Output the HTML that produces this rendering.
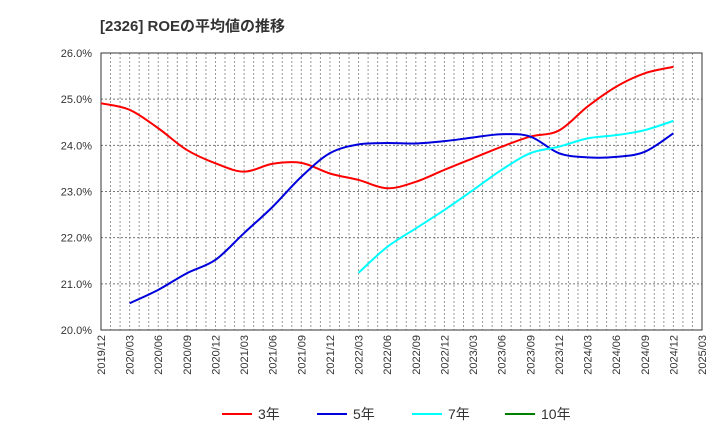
<!DOCTYPE html>
<html><head><meta charset="utf-8"><style>
body{margin:0;background:#fff;font-family:"Liberation Sans","Noto Sans CJK JP",sans-serif;}
</style></head><body>
<svg width="720" height="440" viewBox="0 0 720 440" xmlns="http://www.w3.org/2000/svg" font-family="Liberation Sans, Noto Sans CJK JP, sans-serif">
<text x="100" y="31" font-size="15" font-weight="bold" fill="#333">[2326]  ROEの平均値の推移</text>
<g id="grid"></g>
<g id="axes"></g>
<g id="series"></g>
<g id="legend"></g>
</svg>
<script>
const xLabels=["2019/12","2020/03","2020/06","2020/09","2020/12","2021/03","2021/06","2021/09","2021/12","2022/03","2022/06","2022/09","2022/12","2023/03","2023/06","2023/09","2023/12","2024/03","2024/06","2024/09","2024/12","2025/03"];
const yTicks=[20,21,22,23,24,25,26];
const quarterIdx=[0,1,2,3,4,5,6,7,8,9,10,11,12,13,14,15,16,17,18,19,20];
const roe3=[24.91,24.77,24.37,23.9,23.61,23.43,23.6,23.62,23.39,23.25,23.07,23.21,23.47,23.72,23.97,24.19,24.32,24.84,25.27,25.56,25.70];
const roe5=[null,20.58,20.87,21.23,21.52,22.1,22.67,23.32,23.83,24.02,24.05,24.04,24.09,24.17,24.24,24.19,23.83,23.74,23.75,23.86,24.26];
const roe7=[null,null,null,null,null,null,null,null,null,21.24,21.8,22.2,22.6,23.03,23.47,23.83,23.97,24.15,24.22,24.33,24.53];
const roe10=[];
const L=101,R=702,T=53,B=330;
const xq=i=>L+i*(R-L)/21;
const ym=m=>L+m*(R-L)/63;
const y=v=>T+(26-v)*(B-T)/6;
const NS="http://www.w3.org/2000/svg";
function mk(tag,attrs,parent){const e=document.createElementNS(NS,tag);for(const k in attrs)e.setAttribute(k,attrs[k]);parent.appendChild(e);return e;}
const grid=document.getElementById('grid'),axes=document.getElementById('axes'),ser=document.getElementById('series'),leg=document.getElementById('legend');
const bg=mk('rect',{x:L,y:T,width:R-L,height:B-T,fill:'#fff'},grid);


for(let m=1;m<63;m++){const g=mk('line',{x1:ym(m),x2:ym(m),y1:T,y2:B,stroke:'#999','stroke-dasharray':'2,2','stroke-width':1},grid);

}
yTicks.forEach(v=>{const g=mk('line',{x1:L,x2:R,y1:y(v),y2:y(v),stroke:'#777','stroke-dasharray':'2,2'},grid);


const t=mk('text',{x:92,y:y(v)+4,'text-anchor':'end','font-size':11,fill:'#333'},axes);t.textContent=v.toFixed(1)+'%';

});
const fr=mk('rect',{x:L,y:T,width:R-L,height:B-T,fill:'none',stroke:'#333','stroke-width':1},axes);


xLabels.forEach((s,i)=>{const t=mk('text',{transform:`translate(${xq(i)+4},335) rotate(-90)`,'text-anchor':'end','font-size':11,fill:'#333'},axes);t.textContent=s;

});
function path(vals,color,name){const pts=[];vals.forEach((v,i)=>{if(v!=null)pts.push([xq(quarterIdx[i]),y(v)]);});if(pts.length<2)return;
let d='M'+pts[0][0]+','+pts[0][1];
for(let i=0;i<pts.length-1;i++){const p0=pts[Math.max(0,i-1)],p1=pts[i],p2=pts[i+1],p3=pts[Math.min(pts.length-1,i+2)];
const c1=[p1[0]+(p2[0]-p0[0])/6,p1[1]+(p2[1]-p0[1])/6],c2=[p2[0]-(p3[0]-p1[0])/6,p2[1]-(p3[1]-p1[1])/6];
d+=` C${c1[0]},${c1[1]} ${c2[0]},${c2[1]} ${p2[0]},${p2[1]}`;}
const p=mk('path',{d:d,fill:'none',stroke:color,'stroke-width':2},ser);

}
path(roe3,'#ff0000','line-3yr');
path(roe5,'#0000dd','line-5yr');
path(roe7,'#00ffff','line-7yr');
path(roe10,'#008000','line-10yr');
const items=[['3年','#ff0000',222],['5年','#0000dd',317],['7年','#00ffff',412],['10年','#008000',505]];
items.forEach(([lab,c,x])=>{const g=mk('g',{},leg);


mk('line',{x1:x,x2:x+30,y1:414,y2:414,stroke:c,'stroke-width':2},g);
const t=mk('text',{x:x+36,y:419,'font-size':14,fill:'#333'},g);t.textContent=lab;});
</script>
</body></html>
